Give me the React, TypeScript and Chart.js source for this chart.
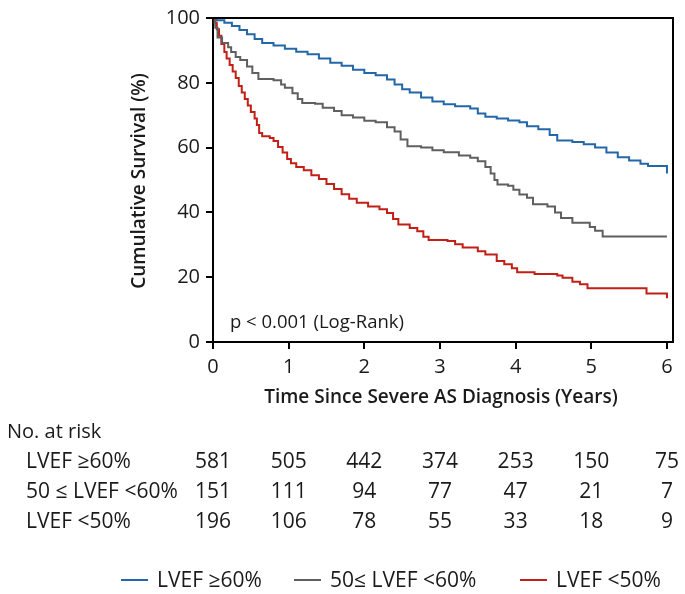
import React, { useEffect, useRef } from "react";
import { Chart, registerables } from "chart.js";

Chart.register(...registerables);

const xTicks = [0, 1, 2, 3, 4, 5, 6];
const yTicks = [0, 20, 40, 60, 80, 100];

const seriesNames = ["LVEF \u226560%", "50\u2264 LVEF <60%", "LVEF <50%"];
const riskLabels = ["LVEF \u226560%", "50 \u2264 LVEF <60%", "LVEF <50%"];
const riskHigh = [581, 505, 442, 374, 253, 150, 75];
const riskMid = [151, 111, 94, 77, 47, 21, 7];
const riskLow = [196, 106, 78, 55, 33, 18, 9];

const highT = [0, 0.05, 0.15, 0.25, 0.35, 0.45, 0.55, 0.65, 0.8, 0.95, 1.1, 1.25, 1.4, 1.55, 1.7, 1.85, 2.0, 2.15, 2.3, 2.4, 2.5, 2.6, 2.75, 2.9, 3.05, 3.2, 3.4, 3.5, 3.6, 3.75, 3.9, 4.05, 4.15, 4.3, 4.45, 4.55, 4.75, 4.9, 5.05, 5.2, 5.35, 5.5, 5.65, 5.75, 5.97, 6.0];
const highV = [100, 99.3, 98.5, 97.5, 96.3, 95, 93.5, 92.3, 91.5, 90.5, 89.6, 88.8, 87.5, 86.2, 85.3, 84, 83, 82.3, 81, 79.5, 78, 77, 75.5, 74.2, 73.4, 72.8, 72.1, 70.5, 69.5, 69, 68.4, 67.8, 66.6, 65.7, 63.9, 62.2, 61.7, 61, 60, 58.5, 57, 56, 55, 54.3, 54.3, 52];

const midT = [0, 0.03, 0.06, 0.12, 0.2, 0.24, 0.3, 0.36, 0.45, 0.52, 0.6, 0.8, 0.9, 0.95, 1.05, 1.12, 1.18, 1.35, 1.45, 1.6, 1.7, 1.85, 2.0, 2.15, 2.3, 2.4, 2.48, 2.57, 2.75, 2.9, 3.05, 3.25, 3.4, 3.5, 3.6, 3.67, 3.72, 3.76, 3.9, 3.97, 4.05, 4.15, 4.23, 4.42, 4.52, 4.6, 4.75, 4.98, 5.05, 5.15, 6.0];
const midV = [100, 97, 94, 92.3, 91, 89.5, 88, 87, 85, 83, 81.2, 80.8, 79.5, 78.5, 76.8, 75, 73.8, 73.5, 72.3, 71.3, 70, 69.3, 68.3, 67.8, 66.3, 65, 62.5, 60.4, 60, 59.2, 58.6, 57.6, 56.9, 55.8, 54, 52, 50, 48.6, 48.2, 47, 45.5, 44.5, 42.5, 41.8, 40, 38.3, 36.8, 35.5, 34.3, 32.6, 32.6];

const lowT = [0, 0.02, 0.05, 0.08, 0.11, 0.15, 0.18, 0.22, 0.26, 0.3, 0.34, 0.38, 0.42, 0.46, 0.5, 0.55, 0.58, 0.61, 0.65, 0.75, 0.8, 0.86, 0.92, 0.98, 1.03, 1.1, 1.2, 1.3, 1.4, 1.5, 1.6, 1.7, 1.8, 1.9, 2.05, 2.2, 2.3, 2.38, 2.45, 2.6, 2.7, 2.78, 2.85, 3.1, 3.2, 3.3, 3.5, 3.6, 3.75, 3.85, 3.95, 4.02, 4.25, 4.55, 4.62, 4.75, 4.85, 4.95, 5.73, 5.98, 6.0];
const lowV = [100, 98.5, 96.5, 94.5, 92, 89.5, 87.5, 85.5, 83.5, 81.5, 79, 77, 75, 73, 71, 69, 67, 64.5, 63.5, 63, 62, 60.2, 58.5, 56.5, 55.2, 54, 53, 51.5, 50.3, 48.8, 47.2, 45.6, 44.2, 43, 41.8, 41, 39.8, 38, 36.3, 35.2, 34.2, 32.5, 31.5, 31.2, 30.2, 29.2, 28, 27, 25, 24, 22.8, 21.5, 21, 20.5, 19.8, 18.6, 17.8, 16.6, 15, 15, 13.5];

const colors = ["#2467a8", "#5f5f5f", "#c21f16"];

const FONT = "'Open Sans', 'DejaVu Sans', sans-serif";
const TEXT = "#1a1a1a";

const toPts = (t: number[], v: number[]) => t.map((x, i) => ({ x, y: v[i] }));

const decor = {
  id: "decor",
  afterDraw(chart: any) {
    const { ctx, chartArea } = chart;
    const xs = chart.scales.x;
    ctx.save();
    ctx.strokeStyle = "#000";
    ctx.lineWidth = 2;
    ctx.beginPath();
    ctx.moveTo(chartArea.left - 1, chartArea.top);
    ctx.lineTo(chartArea.right, chartArea.top);
    ctx.lineTo(chartArea.right, chartArea.bottom + 1);
    ctx.stroke();

    ctx.fillStyle = TEXT;
    ctx.save();
    ctx.translate(140, 181);
    ctx.rotate(-Math.PI / 2);
    ctx.font = `600 19px ${FONT}`;
    ctx.textAlign = "center";
    ctx.textBaseline = "middle";
    ctx.fillText("Cumulative Survival (%)", 0, 0);
    ctx.restore();

    ctx.font = `600 19px ${FONT}`;
    ctx.textAlign = "center";
    ctx.textBaseline = "middle";
    ctx.fillText("Time Since Severe AS Diagnosis (Years)", 441, 398);

    ctx.textBaseline = "alphabetic";
    ctx.font = `18.5px ${FONT}`;
    ctx.textAlign = "left";
    ctx.fillText("p < 0.001 (Log-Rank)", 230, 328);

    ctx.font = `20px ${FONT}`;
    ctx.fillText("No. at risk", 7, 438);
    ctx.font = `21px ${FONT}`;
    const rows = [riskHigh, riskMid, riskLow];
    const rowY = [468, 498, 528];
    rows.forEach((r, i) => {
      ctx.textAlign = "left";
      ctx.fillText(riskLabels[i], 26, rowY[i]);
      ctx.textAlign = "center";
      r.forEach((n, j) => {
        ctx.fillText(String(n), xs.getPixelForValue(xTicks[j]), rowY[i]);
      });
    });

    const legX = [157, 330, 556];
    ctx.textAlign = "left";
    ctx.font = `21px ${FONT}`;
    seriesNames.forEach((name, i) => {
      ctx.strokeStyle = colors[i];
      ctx.lineWidth = 2;
      ctx.beginPath();
      ctx.moveTo(legX[i] - 36, 580);
      ctx.lineTo(legX[i] - 9, 580);
      ctx.stroke();
      ctx.fillStyle = TEXT;
      ctx.fillText(name, legX[i], 587);
    });
    ctx.restore();
  },
};

export default function App() {
  const ref = useRef<HTMLCanvasElement | null>(null);
  useEffect(() => {
    if (!ref.current) return;
    const chart = new Chart(ref.current, {
      type: "line",
      data: {
        datasets: [
          { label: seriesNames[0], data: toPts(highT, highV), borderColor: colors[0] },
          { label: seriesNames[1], data: toPts(midT, midV), borderColor: colors[1] },
          { label: seriesNames[2], data: toPts(lowT, lowV), borderColor: colors[2] },
        ].map((d) => ({ ...d, stepped: true, borderWidth: 2, pointRadius: 0, fill: false })),
      },
      options: {
        animation: false,
        responsive: true,
        maintainAspectRatio: false,
        layout: { padding: { left: 0, top: 13, right: 12, bottom: 0 } },
        plugins: { legend: { display: false }, tooltip: { enabled: false } },
        scales: {
          x: {
            type: "linear",
            min: 0,
            max: 6.08,
            afterBuildTicks: (s: any) => {
              s.ticks = xTicks.map((v) => ({ value: v }));
            },
            afterFit: (s: any) => {
              s.height = 594 - 342;
            },
            grid: { display: true, drawOnChartArea: false, drawTicks: true, tickLength: 7, color: "#000", lineWidth: 2 },
            border: { display: true, color: "#000", width: 2 },
            ticks: { color: TEXT, font: { family: FONT, size: 20 }, padding: 6, maxRotation: 0 },
          },
          y: {
            min: 0,
            max: 100,
            afterBuildTicks: (s: any) => {
              s.ticks = yTicks.map((v) => ({ value: v }));
            },
            afterFit: (s: any) => {
              s.width = 213;
            },
            grid: { display: true, drawOnChartArea: false, drawTicks: true, tickLength: 7, color: "#000", lineWidth: 2 },
            border: { display: true, color: "#000", width: 2 },
            ticks: { color: TEXT, font: { family: FONT, size: 20 }, padding: 6 },
          },
        },
      },
      plugins: [decor],
    } as any);
    return () => chart.destroy();
  }, []);
  return (
    <div style={{ position: "absolute", left: 0, top: 0, width: 685, height: 594 }}>
      <canvas ref={ref} />
    </div>
  );
}
